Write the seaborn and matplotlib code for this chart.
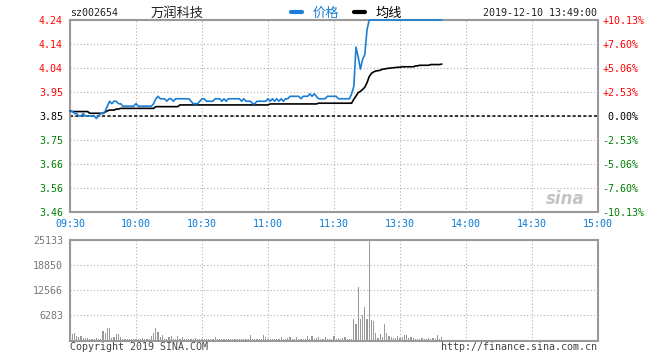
import numpy as np
import pandas as pd
import matplotlib
matplotlib.use("Agg")
import matplotlib.pyplot as plt
from matplotlib.lines import Line2D
import seaborn as sns

# ---------------- data ----------------
stock_code = "sz002654"
stock_name = "万润科技"
timestamp = "2019-12-10 13:49:00"
prev_close = 3.85

price = [
    3.87, 3.87, 3.86, 3.86, 3.85, 3.85, 3.86, 3.85, 3.85, 3.85,
    3.85, 3.85, 3.84, 3.85, 3.86, 3.86, 3.87, 3.89, 3.91, 3.90,
    3.91, 3.91, 3.90, 3.90, 3.89, 3.89, 3.89, 3.89, 3.89, 3.89,
    3.90, 3.89, 3.89, 3.89, 3.89, 3.89, 3.89, 3.89, 3.90, 3.92,
    3.93, 3.92, 3.92, 3.92, 3.91, 3.92, 3.92, 3.91, 3.92, 3.92,
    3.92, 3.92, 3.92, 3.92, 3.92, 3.91, 3.90, 3.90, 3.90, 3.91,
    3.92, 3.92, 3.91, 3.91, 3.91, 3.91, 3.92, 3.92, 3.92, 3.91,
    3.92, 3.91, 3.92, 3.92, 3.92, 3.92, 3.92, 3.92, 3.91, 3.92,
    3.91, 3.91, 3.91, 3.90, 3.90, 3.91, 3.91, 3.91, 3.91, 3.91,
    3.92, 3.91, 3.92, 3.91, 3.92, 3.91, 3.92, 3.91, 3.92, 3.92,
    3.93, 3.93, 3.93, 3.93, 3.93, 3.92, 3.93, 3.93, 3.93, 3.94,
    3.93, 3.94, 3.93, 3.92, 3.92, 3.92, 3.92, 3.93, 3.93, 3.93,
    3.93, 3.93, 3.92, 3.92, 3.92, 3.92, 3.92, 3.92, 3.94, 3.97,
    4.13, 4.09, 4.04, 4.08, 4.10, 4.20, 4.24, 4.24, 4.24, 4.24,
    4.24, 4.24, 4.24, 4.24, 4.24, 4.24, 4.24, 4.24, 4.24, 4.24,
    4.24, 4.24, 4.24, 4.24, 4.24, 4.24, 4.24, 4.24, 4.24, 4.24,
    4.24, 4.24, 4.24, 4.24, 4.24, 4.24, 4.24, 4.24, 4.24, 4.24,
]

avg_price = [
    3.870, 3.868, 3.868, 3.868, 3.868, 3.868, 3.868, 3.868, 3.868, 3.861,
    3.861, 3.861, 3.861, 3.861, 3.861, 3.861, 3.866, 3.871, 3.874, 3.874,
    3.874, 3.878, 3.878, 3.881, 3.881, 3.881, 3.881, 3.881, 3.881, 3.881,
    3.881, 3.881, 3.881, 3.881, 3.881, 3.881, 3.881, 3.881, 3.881, 3.888,
    3.888, 3.888, 3.888, 3.888, 3.888, 3.888, 3.888, 3.888, 3.888, 3.888,
    3.895, 3.895, 3.895, 3.895, 3.895, 3.895, 3.895, 3.895, 3.895, 3.895,
    3.895, 3.895, 3.895, 3.895, 3.895, 3.895, 3.895, 3.895, 3.895, 3.895,
    3.895, 3.895, 3.895, 3.895, 3.895, 3.895, 3.895, 3.895, 3.895, 3.895,
    3.895, 3.895, 3.895, 3.895, 3.895, 3.895, 3.895, 3.895, 3.895, 3.895,
    3.895, 3.899, 3.899, 3.899, 3.899, 3.899, 3.899, 3.899, 3.899, 3.899,
    3.899, 3.899, 3.899, 3.899, 3.899, 3.899, 3.899, 3.899, 3.899, 3.899,
    3.899, 3.899, 3.899, 3.902, 3.902, 3.902, 3.902, 3.902, 3.902, 3.902,
    3.902, 3.902, 3.902, 3.902, 3.902, 3.902, 3.902, 3.902, 3.902, 3.918,
    3.931, 3.945, 3.950, 3.958, 3.967, 3.985, 4.010, 4.023, 4.029, 4.033,
    4.034, 4.036, 4.040, 4.041, 4.043, 4.044, 4.045, 4.046, 4.047, 4.048,
    4.048, 4.050, 4.050, 4.050, 4.050, 4.050, 4.050, 4.053, 4.054, 4.056,
    4.056, 4.056, 4.056, 4.056, 4.059, 4.059, 4.059, 4.059, 4.059, 4.061,
]

volume = [
    1835, 1583, 1835, 1081, 829, 1005, 427, 427, 427, 251,
    251, 176, 427, 251, 251, 2262, 1759, 3016, 3016, 427,
    829, 1508, 1508, 754, 251, 327, 251, 327, 251, 251,
    327, 327, 251, 427, 251, 251, 251, 1005, 1759, 3016,
    2010, 829, 1332, 251, 327, 829, 1005, 327, 327, 1005,
    327, 679, 327, 251, 251, 327, 251, 427, 251, 251,
    327, 251, 251, 251, 251, 327, 754, 327, 251, 327,
    251, 251, 327, 251, 327, 251, 251, 327, 251, 251,
    327, 251, 1257, 327, 251, 327, 251, 251, 1181, 829,
    327, 251, 251, 327, 251, 327, 754, 251, 327, 427,
    754, 327, 251, 754, 327, 251, 327, 251, 930, 327,
    1005, 327, 427, 754, 327, 251, 754, 327, 251, 327,
    1005, 327, 503, 327, 427, 829, 327, 327, 327, 5278,
    4021, 13320, 5278, 6283, 8293, 5278, 25133, 5027, 4775, 1835,
    427, 1508, 754, 4021, 1835, 1005, 754, 503, 503, 1005,
    503, 754, 1257, 1257, 427, 754, 503, 327, 327, 327,
    503, 176, 327, 503, 176, 503, 327, 1257, 327, 754,
]

time_labels = ["09:30", "10:00", "10:30", "11:00", "11:30",
               "13:30", "14:00", "14:30", "15:00"]
price_labels = ["3.46", "3.56", "3.66", "3.75", "3.85",
                "3.95", "4.04", "4.14", "4.24"]
pct_labels = ["-10.13%", "-7.60%", "-5.06%", "-2.53%", " 0.00%",
              "+2.53%", "+5.06%", "+7.60%", "+10.13%"]
vol_labels = ["6283", "12566", "18850", "25133"]

# ---------------- style ----------------
sns.set_style("white")
MONO = "DejaVu Sans Mono"
CJK = ["Noto Sans CJK SC", "DejaVu Sans"]
plt.rcParams["font.family"] = [MONO, "Noto Sans CJK SC"]

BLUE = "#1a7fd4"
TICKBLUE = "#0a7ad6"
RED = "#ff0000"
GREEN = "#008000"
SPINE = "#999999"
GRID = "#b0b0b0"
FS = 7.2

W, H = 660, 360
fig = plt.figure(figsize=(W / 100, H / 100), dpi=100)
ax = fig.add_axes([70 / W, 1 - 212 / H, 528 / W, 192 / H])
axv = fig.add_axes([70 / W, 1 - 341 / H, 528 / W, 101 / H])

df = pd.DataFrame({"minute": np.arange(len(price)), "price": price,
                   "avg": avg_price, "volume": volume})

# ---------------- price panel ----------------
yticks = np.linspace(3.46, 4.24, 9)
ax.set_xlim(0, 240)
ax.set_ylim(3.46, 4.24)
ax.set_xticks(np.arange(0, 241, 30))
ax.set_yticks(yticks)
ax.grid(True, color=GRID, linestyle=(0, (1, 2)), linewidth=0.8)
ax.axhline(prev_close, color="black", linestyle=(0, (2, 1.5)), linewidth=1.1, zorder=2)

sns.lineplot(data=df, x="minute", y="avg", ax=ax, color="black",
             linewidth=1.2, legend=False, zorder=3)
sns.lineplot(data=df, x="minute", y="price", ax=ax, color=BLUE,
             linewidth=1.2, legend=False, zorder=4)
for ln in ax.get_lines():
    ln.set_clip_on(False)

ax.set_xlabel("")
ax.set_ylabel("")
ax.set_xticklabels(time_labels, color=TICKBLUE, fontsize=FS, family=MONO)
ax.set_yticklabels(price_labels, fontsize=FS, family=MONO)
for lab, v in zip(ax.get_yticklabels(), yticks):
    lab.set_color(RED if v > prev_close + 1e-6 else (GREEN if v < prev_close - 1e-6 else "black"))
ax.tick_params(length=0, pad=5)
ax.tick_params(axis="x", pad=5)
for s in ax.spines.values():
    s.set_color(SPINE)
    s.set_linewidth(1.5)
    s.set_zorder(2.5)

ax2 = ax.twinx()
ax2.set_ylim(3.46, 4.24)
ax2.set_yticks(yticks)
ax2.set_yticklabels(pct_labels, fontsize=FS, family=MONO)
for lab, v in zip(ax2.get_yticklabels(), yticks):
    lab.set_color(RED if v > prev_close + 1e-6 else (GREEN if v < prev_close - 1e-6 else "black"))
ax2.tick_params(length=0, pad=3)
for s in ax2.spines.values():
    s.set_visible(False)
ax.set_zorder(ax2.get_zorder() + 1)
ax.patch.set_visible(False)

# watermark
ax.text(0.975, 0.07, "sina", transform=ax.transAxes, ha="right", va="center",
        fontsize=12, fontstyle="italic", fontweight="bold", color="#c4c4c4",
        family="DejaVu Sans")

# ---------------- volume panel ----------------
sns.barplot(data=df, x="minute", y="volume", ax=axv, native_scale=True,
            color="#999999", width=0.55, errorbar=None, saturation=1,
            linewidth=0)
for p in axv.patches:
    p.set_antialiased(False)
    p.set_zorder(3)
vticks = [6283, 12566, 18850, 25133]
axv.set_xlim(0, 240)
axv.set_ylim(-250, 25133)
axv.set_xticks(np.arange(0, 241, 30))
axv.set_xticklabels([])
axv.set_yticks(vticks)
axv.set_yticklabels(vol_labels, fontsize=FS, family=MONO, color="#777777")
axv.set_xlabel("")
axv.set_ylabel("")
axv.grid(True, color=GRID, linestyle=(0, (1, 2)), linewidth=0.8)
axv.set_axisbelow(True)
axv.tick_params(length=0, pad=5)
for s in axv.spines.values():
    s.set_color(SPINE)
    s.set_linewidth(1.5)

# ---------------- header / footer ----------------
def fx(x):
    return x / W

def fy(y):
    return 1 - y / H

fig.text(fx(70), fy(13), stock_code, ha="left", va="center", fontsize=FS,
         family=MONO, color="#222222")
fig.text(fx(177), fy(13), stock_name, ha="center", va="center", fontsize=9.5,
         family=CJK, color="#222222")
handles = [Line2D([], [], color=BLUE, linewidth=3),
           Line2D([], [], color="black", linewidth=3)]
leg = fig.legend(handles, ["价格", "均线"], loc="center left",
                 bbox_to_anchor=(fx(291), fy(13)), ncol=2, frameon=False,
                 prop={"family": CJK, "size": 9.5}, handlelength=0.8,
                 handletextpad=0.8, columnspacing=1.2, borderpad=0,
                 borderaxespad=0)
leg.get_texts()[0].set_color(BLUE)
leg.get_texts()[1].set_color("black")
fig.text(fx(597), fy(13), timestamp, ha="right", va="center", fontsize=FS,
         family=MONO, color="#222222")
fig.text(fx(70), fy(347), "Copyright 2019 SINA.COM", ha="left", va="center",
         fontsize=FS, family=MONO, color="#444444")
fig.text(fx(597), fy(347), "http://finance.sina.com.cn", ha="right", va="center",
         fontsize=FS, family=MONO, color="#444444")

fig.savefig("out.png", dpi=100, facecolor="white")
